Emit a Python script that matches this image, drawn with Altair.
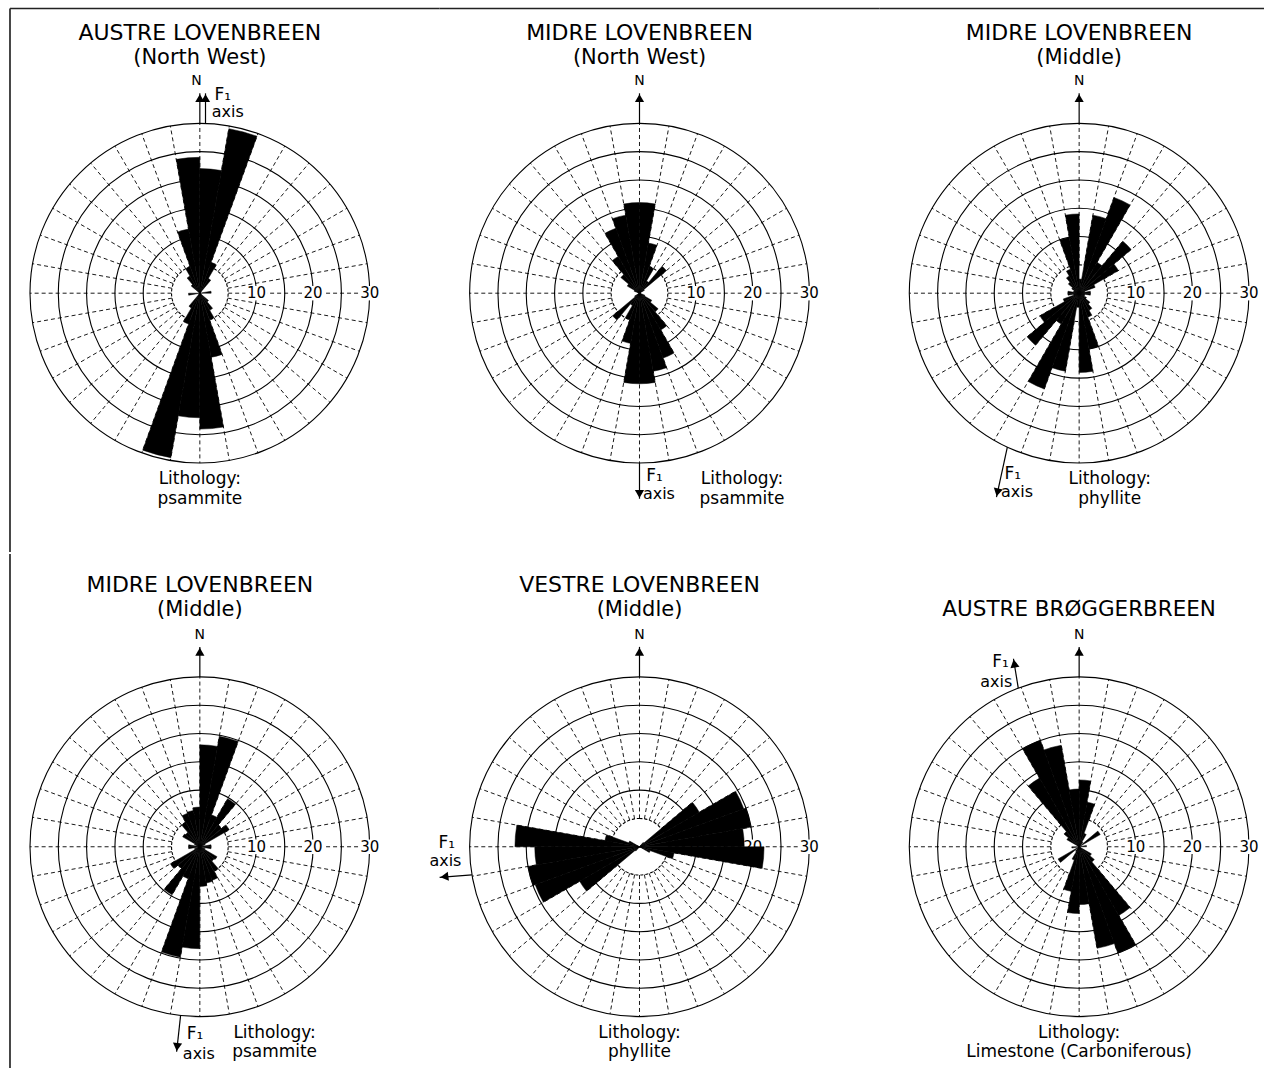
import math
import altair as alt
import pandas as pd

# ---------------- data (axial data: each 10-degree class is plotted twice, 180 deg apart)
sector_start = list(range(0, 180, 10))          # 0-10, 10-20, ... 170-180

austre_lovenbreen_nw = [22, 29.5, 5.8, 3, 0, 0, 0, 0, 2, 0, 0, 0, 0, 2, 3.5, 5, 11.5, 24]
midre_lovenbreen_nw = [16, 9, 5, 2.5, 6.2, 1, 0, 0, 0, 0, 0, 1, 2.5, 4.3, 7.5, 12.2, 14, 16]
midre_lovenbreen_mid_phyllite = [2.5, 14, 18, 6.3, 12, 8, 3, 1, 2, 2, 1, 1, 1.5, 2.5, 3.5, 4.5, 10, 14]
midre_lovenbreen_mid_psammite = [18, 19.8, 6, 9.8, 5, 6, 1, 0, 2, 2, 0, 1, 3.5, 3.3, 5, 6.3, 6.5, 7]
vestre_lovenbreen_mid = [0, 0, 0, 0, 1, 12.2, 19.6, 20, 18.5, 22, 6.2, 2, 0, 0, 0, 0, 0, 0]
austre_broggerbreen = [11.8, 8, 2.5, 1, 0, 4.3, 0, 0, 1.3, 0, 0, 0, 2.5, 3.5, 14, 20, 18.2, 10.2]

ring_radii = [5, 10, 15, 20, 25, 30]
spoke_bearings = list(range(0, 360, 10))
tick_values = [10, 20, 30]
tick_labels = ["10", "20", "30"]

F1 = "F\u2081"

panels = [
    dict(titles=["AUSTRE LOVENBREEN", "(North West)"], title_y=[45.9, 41.5], values=austre_lovenbreen_nw,
         n_x=-0.6,
         arrow=[1.0, 29.98, 1.0, 35.3, 0],
         f1=[2.6, 35.0], axis=[2.1, 32.0], f1_align="left",
         lith=["Lithology:", "psammite"], lith_x=0),
    dict(titles=["MIDRE LOVENBREEN", "(North West)"], title_y=[45.9, 41.5], values=midre_lovenbreen_nw,
         n_x=0,
         arrow=[0, -30, 0, -36.3, 180],
         f1=[1.2, -32.2], axis=[0.6, -35.4], f1_align="left",
         lith=["Lithology:", "psammite"], lith_x=18.1),
    dict(titles=["MIDRE LOVENBREEN", "(Middle)"], title_y=[45.9, 41.5], values=midre_lovenbreen_mid_phyllite,
         n_x=0,
         arrow=[-12.68, -27.19, -14.6, -36.0, 192],
         f1=[-13.2, -32.0], axis=[-13.8, -35.2], f1_align="left",
         lith=["Lithology:", "phyllite"], lith_x=5.4),
    dict(titles=["MIDRE LOVENBREEN", "(Middle)"], title_y=[46.2, 41.8], values=midre_lovenbreen_mid_psammite,
         n_x=0,
         arrow=[-3.4, -29.8, -4.1, -36.2, 186],
         f1=[-2.3, -33.0], axis=[-3.0, -36.6], f1_align="left",
         lith=["Lithology:", "psammite"], lith_x=13.2),
    dict(titles=["VESTRE LOVENBREEN", "(Middle)"], title_y=[46.2, 41.8], values=vestre_lovenbreen_mid,
         n_x=0,
         arrow=[-29.6, -4.95, -35.3, -5.4, 263],
         f1=[-35.5, 0.6], axis=[-37.1, -2.6], f1_align="left",
         lith=["Lithology:", "phyllite"], lith_x=0),
    dict(titles=["AUSTRE BRØGGERBREEN"], title_y=[41.8], values=austre_broggerbreen,
         n_x=0,
         arrow=[-10.75, 28.0, -11.6, 33.2, 350],
         f1=[-12.4, 32.6], axis=[-11.8, 29.1], f1_align="right",
         lith=["Lithology:", "Limestone (Carboniferous)"], lith_x=0),
]

# ---------------- layout / style
R_PX = 170
CX, CY = 200, 293
COL_W = [440, 440, 385]
ROW_H = [552, 516]
FONT = "DejaVu Sans"
LINE = "#000000"


def make_panel(p, w, h, frame_top, frame_left):
    tscale = alt.Scale(domain=[0, 360], range=[0, 2 * math.pi])
    rscale = alt.Scale(type="linear", domain=[0, 30], range=[0, R_PX], zero=True)
    xscale = alt.Scale(domain=[-30, 30], range=[CX - R_PX, CX + R_PX], nice=False, zero=False)
    yscale = alt.Scale(domain=[-30, 30], range=[CY + R_PX, CY - R_PX], nice=False, zero=False)

    def X(f):
        return alt.X(f, type="quantitative", scale=xscale, axis=None)

    def Y(f):
        return alt.Y(f, type="quantitative", scale=yscale, axis=None)

    # spokes (dashed) from r=5 to r=30
    spk = pd.DataFrame({
        "x1": [5 * math.sin(math.radians(b)) for b in spoke_bearings],
        "y1": [5 * math.cos(math.radians(b)) for b in spoke_bearings],
        "x2": [30 * math.sin(math.radians(b)) for b in spoke_bearings],
        "y2": [30 * math.cos(math.radians(b)) for b in spoke_bearings],
    })
    spokes = alt.Chart(spk).mark_rule(color=LINE, strokeWidth=0.9, strokeDash=[4, 3]).encode(
        x=X("x1"), y=Y("y1"), x2="x2", y2="y2")

    rings = pd.DataFrame({"r": ring_radii})
    ring_solid = alt.Chart(rings[rings.r > 5]).mark_arc(
        x=CX, y=CY, theta=0, theta2=2 * math.pi, fillOpacity=0, stroke=LINE, strokeWidth=1.1
    ).encode(radius=alt.Radius("r:Q", scale=rscale, stack=None))
    ring_inner = alt.Chart(rings[rings.r == 5]).mark_arc(
        x=CX, y=CY, theta=0, theta2=2 * math.pi, fillOpacity=0, stroke=LINE, strokeWidth=1.1,
        strokeDash=[3, 2]
    ).encode(radius=alt.Radius("r:Q", scale=rscale, stack=None))

    ticks = pd.DataFrame({"x": tick_values, "y": [0] * 3, "t": tick_labels})
    tick_bg = alt.Chart(ticks).mark_point(
        shape="M-1.3,-0.85H1.3V0.85H-1.3Z", size=289, filled=True, fill="white", opacity=1,
        strokeWidth=0
    ).encode(x=X("x"), y=Y("y"))
    tick_txt = alt.Chart(ticks).mark_text(font=FONT, fontSize=15, color="black").encode(
        x=X("x"), y=Y("y"), text="t:N")

    rows = []
    for s, v in zip(sector_start, p["values"]):
        if v > 0:
            rows.append({"start": s, "end": s + 10, "value": v})
            rows.append({"start": s + 180, "end": s + 190, "value": v})
    bars = alt.Chart(pd.DataFrame(rows)).mark_arc(
        x=CX, y=CY, color="black", stroke="black", strokeWidth=0.5
    ).encode(
        theta=alt.Theta("start:Q", scale=tscale, stack=None),
        theta2="end:Q",
        radius=alt.Radius("value:Q", scale=rscale, stack=None),
    )

    # arrows: North and F1 axis
    ax0, ay0, ax1, ay1, aang = p["arrow"]
    arr = pd.DataFrame({
        "x1": [0, ax0], "y1": [30, ay0], "x2": [0, ax1], "y2": [35.3, ay1], "ang": [0, aang]})
    arr["hx"] = arr.x2 - 0.85 * arr.ang.apply(lambda a: math.sin(math.radians(a)))
    arr["hy"] = arr.y2 - 0.85 * arr.ang.apply(lambda a: math.cos(math.radians(a)))
    shafts = alt.Chart(arr).mark_rule(color="black", strokeWidth=1.2).encode(
        x=X("x1"), y=Y("y1"), x2="x2", y2="y2")
    heads = alt.Chart(arr).mark_point(shape="triangle-up", size=85, filled=True, color="black",
                                      opacity=1).encode(
        x=X("hx"), y=Y("hy"), angle=alt.Angle("ang:Q", scale=None))

    # texts
    sizes = [22, 21]
    center_rows = [{"x": 0, "y": ty, "t": t, "s": sizes[k] if len(p["titles"]) > 1 else 21.5}
                   for k, (t, ty) in enumerate(zip(p["titles"], p["title_y"]))]
    center_rows.append({"x": p["n_x"], "y": 37.4, "t": "N", "s": 14})
    center_rows.append({"x": p["lith_x"], "y": -32.9, "t": p["lith"][0], "s": 17})
    center_rows.append({"x": p["lith_x"], "y": -36.3, "t": p["lith"][1], "s": 17})
    side_rows = [
        {"x": p["f1"][0], "y": p["f1"][1], "t": F1, "s": 17},
        {"x": p["axis"][0], "y": p["axis"][1], "t": "axis", "s": 16},
    ]
    txt_c = alt.Chart(pd.DataFrame(center_rows)).mark_text(font=FONT, color="black", align="center",
                                                          baseline="middle").encode(
        x=X("x"), y=Y("y"), text="t:N", size=alt.Size("s:Q", scale=None))
    txt_s = alt.Chart(pd.DataFrame(side_rows)).mark_text(font=FONT, color="black", align=p["f1_align"],
                                                        baseline="middle").encode(
        x=X("x"), y=Y("y"), text="t:N", size=alt.Size("s:Q", scale=None))

    layers = [spokes, ring_solid, ring_inner, tick_bg, tick_txt, bars, shafts, heads, txt_c, txt_s]

    fr = pd.DataFrame({"k": [0]})
    if frame_top:
        layers.append(alt.Chart(fr).mark_rule(color="#222222", strokeWidth=1.5).encode(
            x=alt.value(10 if frame_left else 0), x2=alt.value(w), y=alt.value(8)))
    if frame_left:
        layers.append(alt.Chart(fr).mark_rule(color="#333333", strokeWidth=1.8).encode(
            x=alt.value(10), y=alt.value(8 if frame_top else 0), y2=alt.value(h)))

    return alt.layer(*layers).properties(width=w, height=h)


charts = []
for i, p in enumerate(panels):
    r, c = divmod(i, 3)
    charts.append(make_panel(p, COL_W[c], ROW_H[r], frame_top=(r == 0), frame_left=(c == 0)))

row1 = alt.hconcat(*charts[:3], spacing=0, bounds="flush")
row2 = alt.hconcat(*charts[3:], spacing=0, bounds="flush")
chart = alt.vconcat(row1, row2, spacing=0).properties(
    padding=0, background="white"
).configure_view(strokeWidth=0)

chart.save("out.html", embed_options={"renderer": "svg", "actions": False})
